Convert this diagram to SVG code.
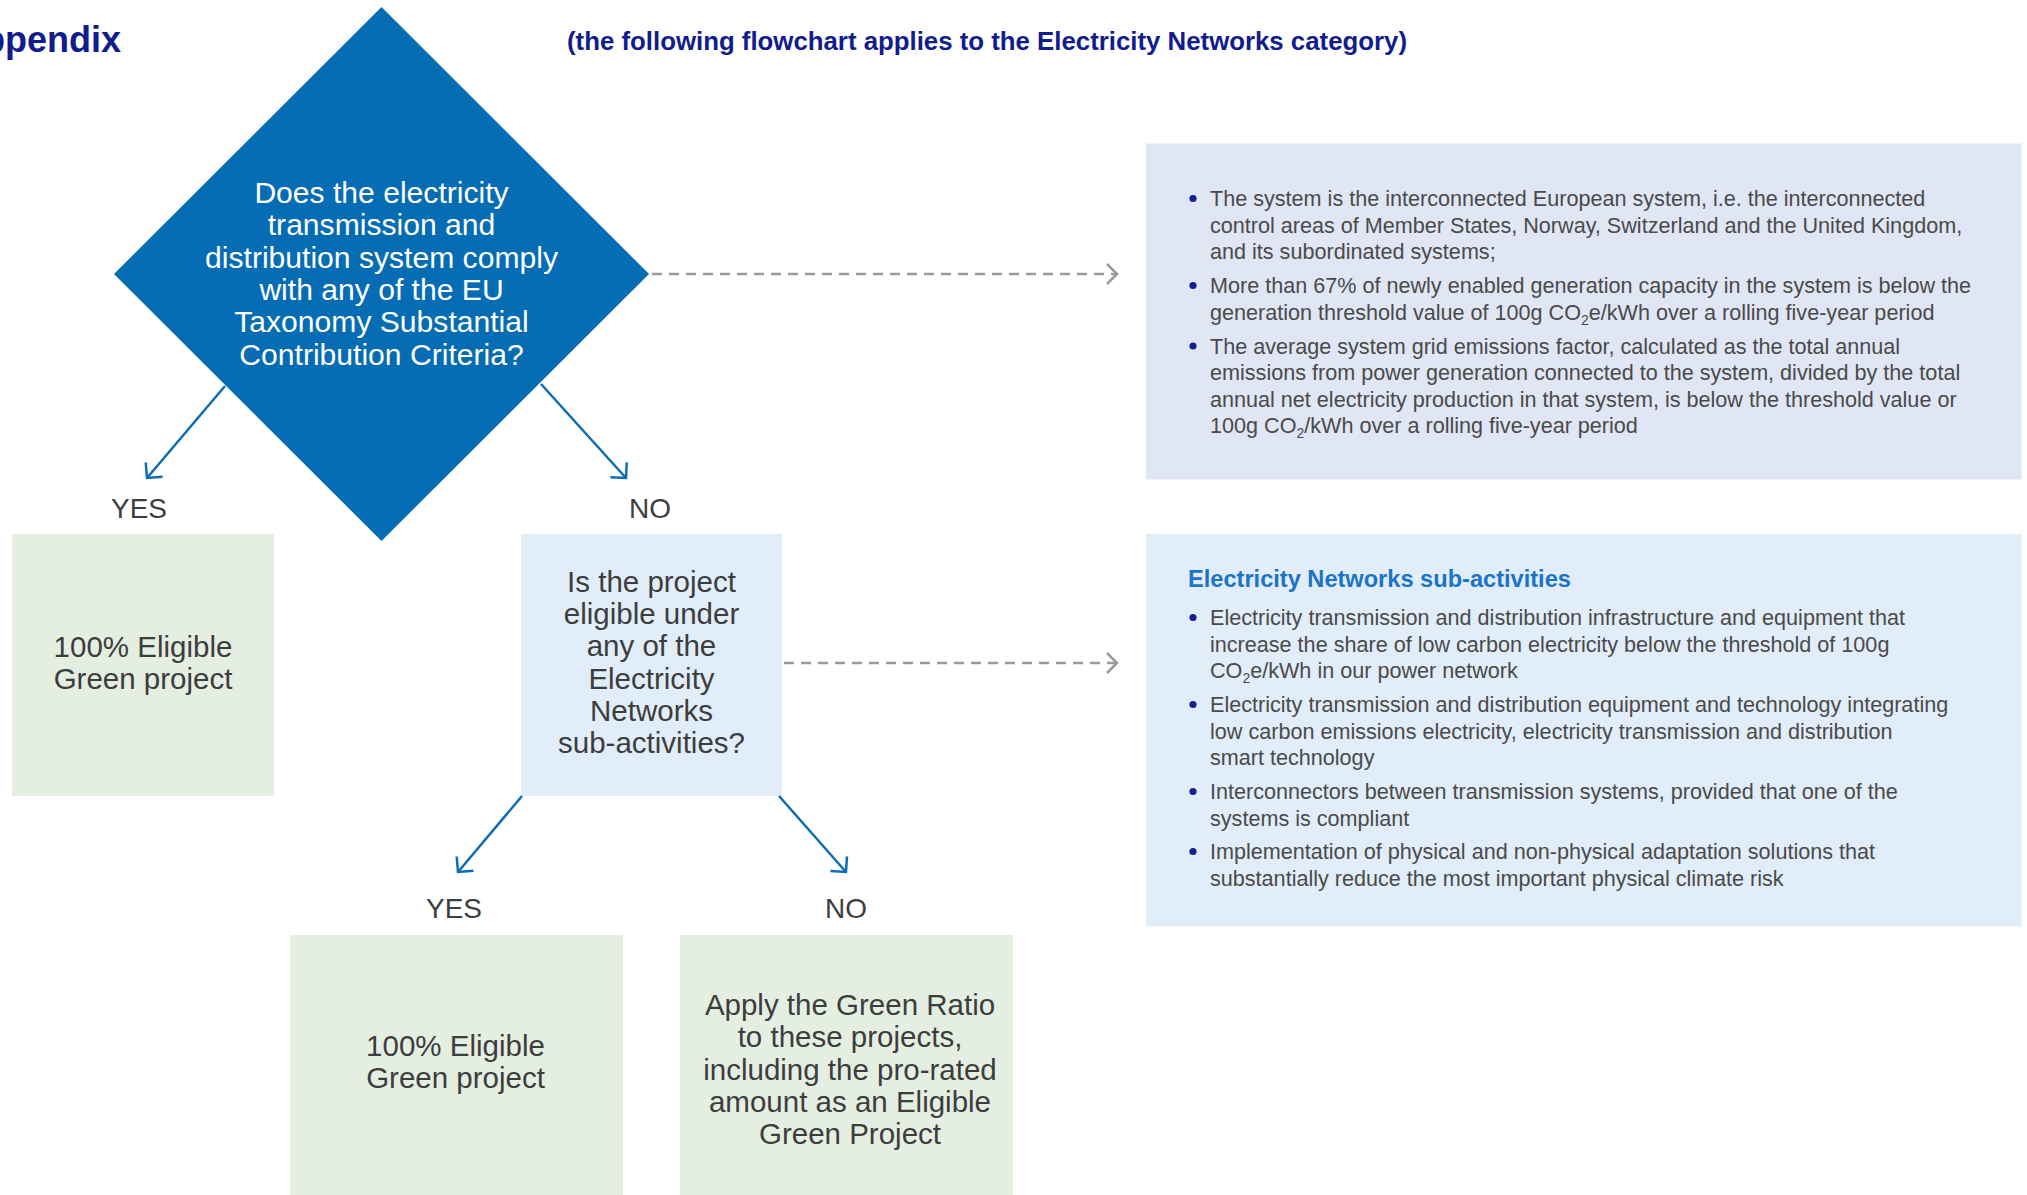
<svg xmlns="http://www.w3.org/2000/svg" width="2027" height="1195" viewBox="0 0 2027 1195">
<style>
  text { font-family: "Liberation Sans", Arial, Helvetica, sans-serif; }
  .title { font-size: 36px; font-weight: bold; fill: #111c8e; }
  .subtitle { font-size: 25.8px; font-weight: bold; fill: #111c8e; }
  .nt { font-size: 29.5px; fill: #3d3d3d; text-anchor: middle; }
  .wt { font-size: 30.1px; fill: #ffffff; text-anchor: middle; }
  .lbl { font-size: 28px; fill: #3d3d3d; text-anchor: middle; }
  .body { font-size: 21.6px; fill: #4a4a4a; }
  .sub { font-size: 14px; }
  .ptitle { font-size: 23.6px; font-weight: bold; fill: #1b74c6; }
  .bullet { fill: #14208f; }
  .green { fill: #e4efe2; }
  .qbox { fill: #e1edf9; }
  .p1 { fill: #e0e6f4; }
  .p2 { fill: #e1edf9; }
  .blue { stroke: #0a6db5; stroke-width: 2.5; fill: none; marker-end: url(#ab); }
  .dash { stroke: #9a9a9a; stroke-width: 2.5; stroke-dasharray: 10 7; fill: none; marker-end: url(#ag); }
</style>
<defs>
  <marker id="ab" markerUnits="userSpaceOnUse" markerWidth="30" markerHeight="30" viewBox="-15 -15 30 30" refX="0" refY="0" orient="auto">
    <path d="M-11,-11 L0,0 L-11,11" fill="none" stroke="#0a6db5" stroke-width="2.5"/>
  </marker>
  <marker id="ag" markerUnits="userSpaceOnUse" markerWidth="30" markerHeight="30" viewBox="-15 -15 30 30" refX="0" refY="0" orient="auto">
    <path d="M-10,-10 L0,0 L-10,10" fill="none" stroke="#9a9a9a" stroke-width="2.5" stroke-dasharray="none"/>
  </marker>
</defs>
<rect x="0" y="0" width="2027" height="1195" fill="#ffffff"/>

<g id="header">
  <text class="title" x="121" y="52" text-anchor="end">Appendix</text>
  <text class="subtitle" x="567" y="50">(the following flowchart applies to the Electricity Networks category)</text>
</g>

<g id="node-criteria">
  <polygon points="381.5,7 649,274 381.5,541 114,274" fill="#066cb4"/>
  <text class="wt" x="381.5" y="203">Does the electricity</text>
  <text class="wt" x="381.5" y="235.3">transmission and</text>
  <text class="wt" x="381.5" y="267.6">distribution system comply</text>
  <text class="wt" x="381.5" y="300">with any of the EU</text>
  <text class="wt" x="381.5" y="332.3">Taxonomy Substantial</text>
  <text class="wt" x="381.5" y="364.6">Contribution Criteria?</text>
</g>

<g id="node-yes1">
  <rect class="green" x="12" y="534" width="262" height="262"/>
  <text class="nt" x="143" y="656.5">100% Eligible</text>
  <text class="nt" x="143" y="688.8">Green project</text>
</g>

<g id="node-question">
  <rect class="qbox" x="521" y="534" width="261" height="262"/>
  <text class="nt" x="651.5" y="591.7">Is the project</text>
  <text class="nt" x="651.5" y="624">eligible under</text>
  <text class="nt" x="651.5" y="656.3">any of the</text>
  <text class="nt" x="651.5" y="688.6">Electricity</text>
  <text class="nt" x="651.5" y="720.9">Networks</text>
  <text class="nt" x="651.5" y="753.2">sub-activities?</text>
</g>

<g id="node-yes2">
  <rect class="green" x="290" y="935" width="333" height="262"/>
  <text class="nt" x="455.5" y="1056">100% Eligible</text>
  <text class="nt" x="455.5" y="1088.3">Green project</text>
</g>

<g id="node-no2">
  <rect class="green" x="680" y="935" width="333" height="262"/>
  <text class="nt" x="850" y="1015">Apply the Green Ratio</text>
  <text class="nt" x="850" y="1047.3">to these projects,</text>
  <text class="nt" x="850" y="1079.6">including the pro-rated</text>
  <text class="nt" x="850" y="1111.9">amount as an Eligible</text>
  <text class="nt" x="850" y="1144.2">Green Project</text>
</g>

<g id="node-criteria-panel">
  <rect class="p1" x="1146" y="143.5" width="875.5" height="336"/>
  <circle class="bullet" cx="1193" cy="198.5" r="3.6"/>
  <circle class="bullet" cx="1193" cy="285.5" r="3.6"/>
  <circle class="bullet" cx="1193" cy="346" r="3.6"/>
  <text class="body" x="1210" y="206">The system is the interconnected European system, i.e. the interconnected</text>
  <text class="body" x="1210" y="232.5">control areas of Member States, Norway, Switzerland and the United Kingdom,</text>
  <text class="body" x="1210" y="259">and its subordinated systems;</text>
  <text class="body" x="1210" y="293">More than 67% of newly enabled generation capacity in the system is below the</text>
  <text class="body" x="1210" y="319.5">generation threshold value of 100g CO<tspan class="sub" dy="5">2</tspan><tspan dy="-5">e/kWh over a rolling five-year period</tspan></text>
  <text class="body" x="1210" y="353.5">The average system grid emissions factor, calculated as the total annual</text>
  <text class="body" x="1210" y="380">emissions from power generation connected to the system, divided by the total</text>
  <text class="body" x="1210" y="406.5">annual net electricity production in that system, is below the threshold value or</text>
  <text class="body" x="1210" y="433">100g CO<tspan class="sub" dy="5">2</tspan><tspan dy="-5">/kWh over a rolling five-year period</tspan></text>
</g>

<g id="node-subactivities-panel">
  <rect class="p2" x="1146" y="534" width="875.5" height="392.5"/>
  <text class="ptitle" x="1188" y="587">Electricity Networks sub-activities</text>
  <circle class="bullet" cx="1193" cy="617.5" r="3.6"/>
  <circle class="bullet" cx="1193" cy="704.5" r="3.6"/>
  <circle class="bullet" cx="1193" cy="791.5" r="3.6"/>
  <circle class="bullet" cx="1193" cy="851.5" r="3.6"/>
  <text class="body" x="1210" y="625">Electricity transmission and distribution infrastructure and equipment that</text>
  <text class="body" x="1210" y="651.5">increase the share of low carbon electricity below the threshold of 100g</text>
  <text class="body" x="1210" y="678">CO<tspan class="sub" dy="5">2</tspan><tspan dy="-5">e/kWh in our power network</tspan></text>
  <text class="body" x="1210" y="712">Electricity transmission and distribution equipment and technology integrating</text>
  <text class="body" x="1210" y="738.5">low carbon emissions electricity, electricity transmission and distribution</text>
  <text class="body" x="1210" y="765">smart technology</text>
  <text class="body" x="1210" y="799">Interconnectors between transmission systems, provided that one of the</text>
  <text class="body" x="1210" y="825.5">systems is compliant</text>
  <text class="body" x="1210" y="859">Implementation of physical and non-physical adaptation solutions that</text>
  <text class="body" x="1210" y="885.5">substantially reduce the most important physical climate risk</text>
</g>

<g id="connectors">
  <line class="blue" x1="225" y1="386" x2="147" y2="478"/>
  <line class="blue" x1="541" y1="384" x2="626" y2="478"/>
  <line class="blue" x1="522" y1="796" x2="458" y2="872"/>
  <line class="blue" x1="779" y1="796" x2="846" y2="872"/>
  <line class="dash" x1="652" y1="274" x2="1117" y2="274"/>
  <line class="dash" x1="784" y1="663" x2="1117" y2="663"/>
  <text class="lbl" x="139" y="518">YES</text>
  <text class="lbl" x="650" y="518">NO</text>
  <text class="lbl" x="454" y="918">YES</text>
  <text class="lbl" x="846" y="918">NO</text>
</g>
</svg>
